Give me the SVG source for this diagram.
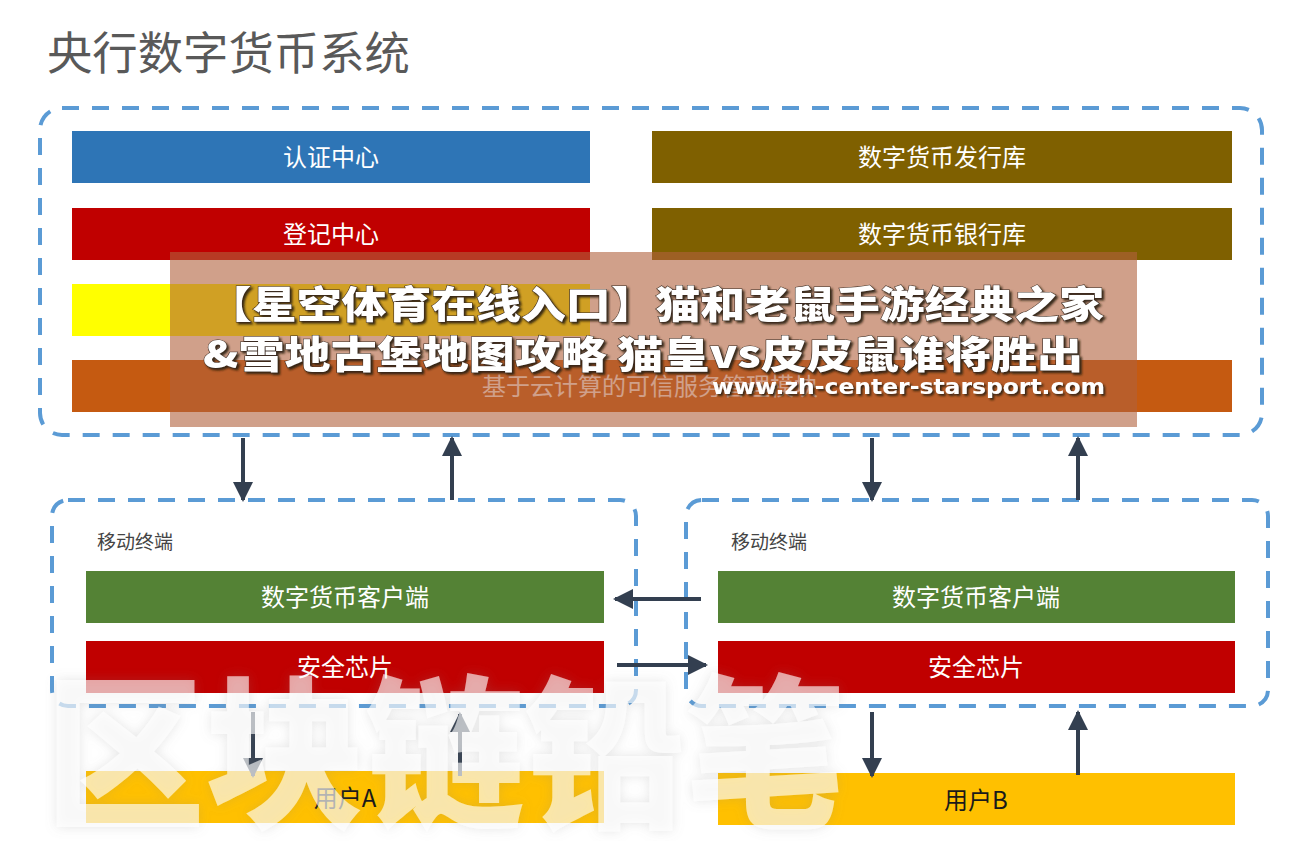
<svg xmlns="http://www.w3.org/2000/svg" width="1308" height="841" viewBox="0 0 1308 841">
<style>
.dash{fill:none;stroke:#5b9bd5;stroke-width:4;stroke-dasharray:17 13;}
.lbl{font-family:"Noto Sans CJK SC","Noto Sans",sans-serif;font-size:24px;fill:#ffffff;text-anchor:middle;}
.dark{fill:#1a1a1a;}
.arr{stroke:#333f50;stroke-width:4;fill:none;marker-end:url(#ah);}
.sub{font-family:"Noto Sans CJK SC","Noto Sans",sans-serif;font-size:19px;fill:#444;}
.ban{font-family:"Noto Sans CJK SC","Noto Sans",sans-serif;font-weight:900;font-size:38px;fill:#ffffff;stroke:#3a2a20;stroke-width:1;paint-order:stroke;}
</style>
<defs>
<marker id="ah" viewBox="0 0 10 10" refX="9" refY="5" markerWidth="5" markerHeight="5" orient="auto" markerUnits="strokeWidth">
<path d="M0,0 L10,5 L0,10 z" fill="#333f50"/>
</marker>
<filter id="sh" x="-5%" y="-20%" width="110%" height="140%">
<feDropShadow dx="2" dy="2" stdDeviation="0.8" flood-color="#2a1a10" flood-opacity="0.9"/>
</filter>
<filter id="wm" x="-5%" y="-10%" width="110%" height="120%">
<feDropShadow dx="0" dy="0" stdDeviation="6" flood-color="#888" flood-opacity="0.35"/>
</filter>
</defs>
<rect width="1308" height="841" fill="#ffffff"/>

<text x="47" y="70" font-family="'Noto Sans CJK SC','Noto Sans',sans-serif" font-size="45" fill="#595959" textLength="363" lengthAdjust="spacingAndGlyphs">央行数字货币系统</text>

<g id="central-bank">
<rect class="dash" x="40" y="108" width="1222" height="327" rx="22"/>
</g>
<g id="auth-center"><rect x="72" y="131" width="518" height="52" fill="#2e75b6"/><text class="lbl" x="331" y="166">认证中心</text></g>
<g id="reg-center"><rect x="72" y="208" width="518" height="52" fill="#c00000"/><text class="lbl" x="331" y="243">登记中心</text></g>
<g id="yellow-center"><rect x="72" y="284" width="518" height="52" fill="#ffff00"/></g>
<g id="issue-lib"><rect x="652" y="131" width="580" height="52" fill="#7f6000"/><text class="lbl" x="942" y="166">数字货币发行库</text></g>
<g id="bank-lib"><rect x="652" y="208" width="580" height="52" fill="#7f6000"/><text class="lbl" x="942" y="243">数字货币银行库</text></g>
<g id="tsm"><rect x="72" y="360" width="1160" height="52" fill="#c55a11"/><text class="lbl" x="650" y="395">基于云计算的可信服务管理模块</text></g>

<g id="terminal-a">
<rect class="dash" x="52" y="500" width="584" height="206" rx="16"/>
<text class="sub" x="97" y="549">移动终端</text>
</g>
<g id="client-a"><rect x="86" y="571" width="518" height="52" fill="#548235"/><text class="lbl" x="345" y="606">数字货币客户端</text></g>
<g id="chip-a"><rect x="86" y="641" width="518" height="52" fill="#c00000"/><text class="lbl" x="345" y="676">安全芯片</text></g>
<g id="user-a"><rect x="86" y="771" width="518" height="52" fill="#ffc000"/><text class="lbl dark" x="345" y="807">用户A</text></g>

<g id="terminal-b">
<rect class="dash" x="686" y="500" width="582" height="206" rx="16"/>
<text class="sub" x="731" y="549">移动终端</text>
</g>
<g id="client-b"><rect x="718" y="571" width="517" height="52" fill="#548235"/><text class="lbl" x="976" y="606">数字货币客户端</text></g>
<g id="chip-b"><rect x="718" y="641" width="517" height="52" fill="#c00000"/><text class="lbl" x="976" y="676">安全芯片</text></g>
<g id="user-b"><rect x="718" y="773" width="517" height="52" fill="#ffc000"/><text class="lbl dark" x="976" y="809">用户B</text></g>

<g id="connectors">
<line class="arr" x1="243" y1="438" x2="243" y2="500"/>
<line class="arr" x1="452" y1="500" x2="452" y2="438"/>
<line class="arr" x1="872" y1="438" x2="872" y2="500"/>
<line class="arr" x1="1078" y1="500" x2="1078" y2="438"/>
<line class="arr" x1="701" y1="599" x2="615" y2="599"/>
<line class="arr" x1="617" y1="665" x2="706" y2="665"/>
<line class="arr" x1="253" y1="712" x2="253" y2="776"/>
<line class="arr" x1="460" y1="776" x2="460" y2="714"/>
<line class="arr" x1="872" y1="712" x2="872" y2="776"/>
<line class="arr" x1="1078" y1="775" x2="1078" y2="712"/>
</g>

<g id="banner">
<rect x="170" y="252" width="967" height="175" fill="#b1613c" fill-opacity="0.6"/>
<g filter="url(#sh)">
<text class="ban" x="207" y="318" textLength="897" lengthAdjust="spacingAndGlyphs">【星空体育在线入口】猫和老鼠手游经典之家</text>
<text class="ban" x="203" y="368" textLength="880" lengthAdjust="spacingAndGlyphs">&amp;雪地古堡地图攻略  猫皇vs皮皮鼠谁将胜出</text>
<text x="712" y="394" font-family="'DejaVu Sans',sans-serif" font-size="22" font-weight="bold" fill="#ffffff" textLength="393" lengthAdjust="spacingAndGlyphs">www.zh-center-starsport.com</text>
</g>
</g>

<g id="watermark" filter="url(#wm)">
<text x="45" y="815" font-family="'Noto Sans CJK SC',sans-serif" font-weight="900" font-size="165" fill="#ffffff" fill-opacity="0.62" textLength="800" lengthAdjust="spacingAndGlyphs">区块链铅笔</text>
</g>
</svg>
